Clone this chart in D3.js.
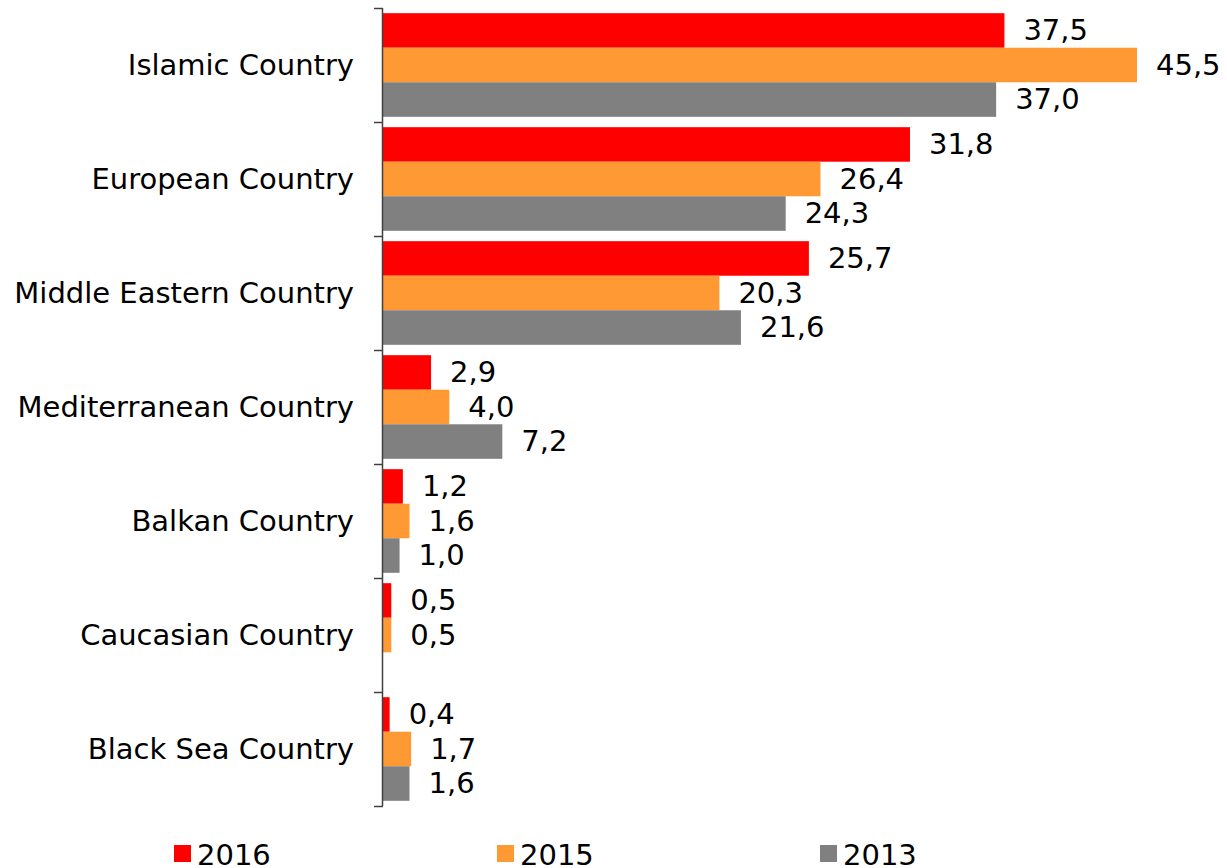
<!DOCTYPE html>
<html>
<head>
<meta charset="utf-8">
<script src="https://cdn.jsdelivr.net/npm/d3@7"></script>
<style>
  body { margin: 0; background: #fff; }
  text { font-family: "DejaVu Sans", Verdana, sans-serif; }
</style>
</head>
<body>
<div id="chart"></div>
<script>
// data
const categories = ["Islamic Country", "European Country", "Middle Eastern Country",
  "Mediterranean Country", "Balkan Country", "Caucasian Country", "Black Sea Country"];
const seriesNames = ["2016", "2015", "2013"];
const values2016 = [37.5, 31.8, 25.7, 2.9, 1.2, 0.5, 0.4];
const values2015 = [45.5, 26.4, 20.3, 4.0, 1.6, 0.5, 1.7];
const values2013 = [37.0, 24.3, 21.6, 7.2, 1.0, null, 1.6];
const seriesColors = ["#ff0000", "#ff9933", "#808080"];

const seriesValues = [values2016, values2015, values2013];

let width = 1227;
let height = 868;
let margin = { top: 8, left: 383, bottom: 62 };
let plotBottom = height - margin.bottom;

let svg = d3.select("#chart").append("svg")
  .attr("width", width)
  .attr("height", height);

// scales
let x = d3.scaleLinear().domain([0, 45.5]).range([margin.left, 1137]);
let y = d3.scaleBand().domain(categories).range([margin.top, plotBottom]);
let ySub = d3.scaleBand().domain(seriesNames).range([0, y.bandwidth()]).paddingOuter(0.15);

// bars
let g = svg.append("g");
categories.forEach((cat, i) => {
  let grp = g.append("g").attr("transform", "translate(0," + y(cat) + ")");
  seriesNames.forEach((s, j) => {
    let v = seriesValues[j][i];
    if (v === null) return;
    grp.append("rect")
      .attr("x", x(0))
      .attr("y", ySub(s))
      .attr("width", x(v) - x(0))
      .attr("height", ySub.bandwidth())
      .attr("fill", seriesColors[j]);
    grp.append("text")
      .attr("x", x(v) + 19)
      .attr("y", ySub(s) + ySub.bandwidth() / 2)
      .attr("dy", "0.34em")
      .attr("font-size", "29px")
      .attr("fill", "#000")
      .text(d3.format(".1f")(v).replace(".", ","));
  });
});

// axis: vertical line with ticks at band boundaries
let boundaries = categories.map((c) => y(c)).concat([plotBottom]);
let axisG = svg.append("g");
axisG.append("line")
  .attr("x1", margin.left - 0.5).attr("x2", margin.left - 0.5)
  .attr("y1", margin.top).attr("y2", plotBottom)
  .attr("stroke", "#404040").attr("stroke-width", 1.5);
axisG.selectAll(".tick")
  .data(boundaries)
  .enter()
  .append("line")
  .attr("class", "tick")
  .attr("x1", margin.left - 9).attr("x2", margin.left)
  .attr("y1", (d) => Math.round(d) + 0.5).attr("y2", (d) => Math.round(d) + 0.5)
  .attr("stroke", "#404040").attr("stroke-width", 1.5);

// category labels
axisG.selectAll(".cat")
  .data(categories)
  .enter()
  .append("text")
  .attr("class", "cat")
  .attr("x", 354)
  .attr("y", (d) => y(d) + y.bandwidth() / 2)
  .attr("dy", "0.35em")
  .attr("text-anchor", "end")
  .attr("font-size", "29px")
  .attr("fill", "#000")
  .text((d) => d);

// legend
let legendX = [174, 497, 820];
let legend = svg.append("g");
seriesNames.forEach((s, j) => {
  legend.append("rect")
    .attr("x", legendX[j]).attr("y", 845)
    .attr("width", 17).attr("height", 17)
    .attr("fill", seriesColors[j]);
  legend.append("text")
    .attr("x", legendX[j] + 23)
    .attr("y", 865)
    .attr("font-size", "29px")
    .attr("fill", "#000")
    .text(s);
});
</script>
</body>
</html>
